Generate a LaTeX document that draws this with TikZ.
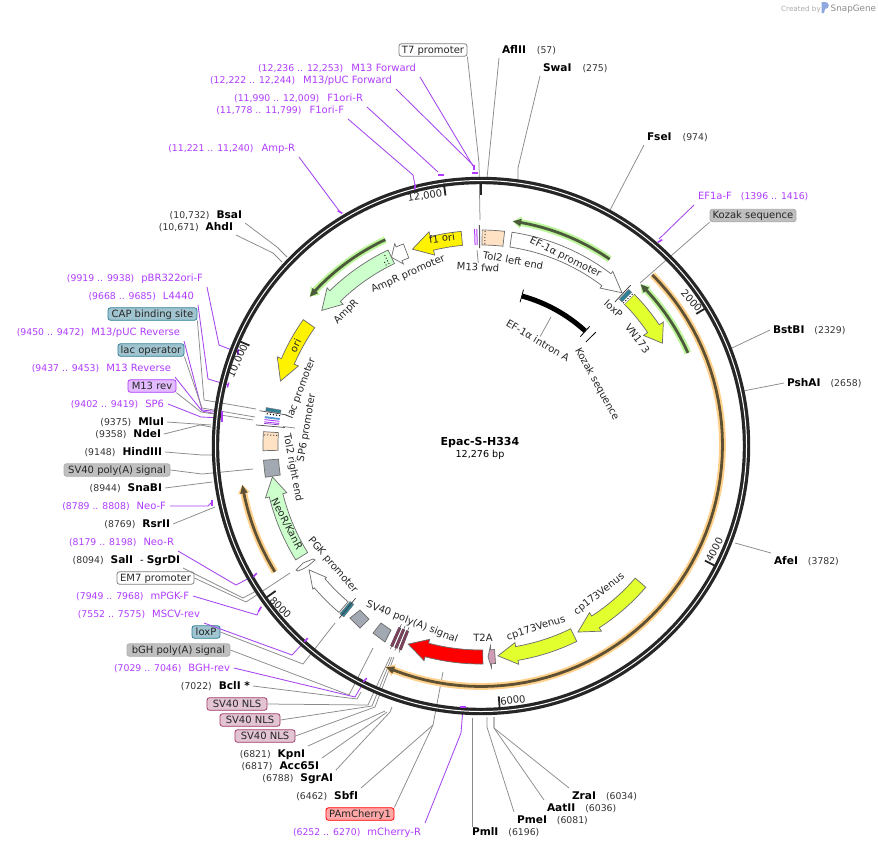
\documentclass[tikz,border=0pt]{standalone}
\usepackage{fontspec}
\setmainfont{DejaVu Sans}
\definecolor{primer}{HTML}{B03CFF}
\definecolor{primerline}{HTML}{A545F0}
\definecolor{leadgray}{HTML}{8A8A8A}
\definecolor{ringdark}{HTML}{262626}
\definecolor{numgray}{HTML}{333333}
\definecolor{peach}{HTML}{FFE2C4}
\definecolor{greybox}{HTML}{A3A9B2}
\definecolor{paleg}{HTML}{CCFFCC}
\definecolor{venus}{HTML}{E2FF2E}
\definecolor{tealf}{HTML}{2F7F96}
\definecolor{nlsf}{HTML}{A03A6A}
\definecolor{greenhalo}{HTML}{BDF59A}
\definecolor{greencore}{HTML}{4C5A3C}
\definecolor{orghalo}{HTML}{FFD08A}
\definecolor{orgcore}{HTML}{5E5032}
\newcommand{\Num}[1]{{\fontsize{9.3}{11}\selectfont\color{numgray}#1}}
\newcommand{\Enz}[1]{{\fontsize{10.6}{12}\selectfont\bfseries #1}}
\newcommand{\lblfont}{\fontsize{10}{12}\selectfont}
\tikzset{
  baselbl/.style={font=\lblfont,inner sep=0pt,text height=8pt,text depth=2pt},
  enzr/.style={baselbl,anchor=east,outer sep=3pt,xshift=3pt},
  enzl/.style={baselbl,anchor=west,outer sep=3pt,xshift=-3pt},
  primr/.style={baselbl,anchor=east,outer sep=4pt,xshift=4pt,text=primer},
  priml/.style={baselbl,anchor=west,outer sep=4pt,xshift=-4pt,text=primer},
  featbox/.style={baselbl,draw,rounded corners=2.5pt,line width=.8pt,align=center,text=black!85},
  whitebox/.style={featbox,draw=black!50,fill=white},
  tealbox/.style={featbox,draw=tealf,fill=tealf!45},
  greylab/.style={featbox,draw=black!32,fill=black!25},
  nlsbox/.style={featbox,draw=nlsf,fill=nlsf!30},
  m13box/.style={featbox,draw=primer,fill=primer!35},
  redbox/.style={featbox,draw=red,fill=red!35},
  lead/.style={draw=leadgray,line width=.75pt},
  plead/.style={draw=primerline,line width=.85pt},
  ptick/.style={draw=primer,line width=1.6pt},
  featedge/.style={draw=black!58,line width=.7pt},
  maplbl/.style={baselbl,text=black!85,anchor=center},
  halo/.style={draw=none,fill=#1},
}
\newcommand{\FeatArrow}[7]{%
  \pgfmathsetmacro\rO{#4+#5}\pgfmathsetmacro\rI{#4-#5}\pgfmathsetmacro\hO{#4+#6}\pgfmathsetmacro\hI{#4-#6}%
  \draw[#7] plot[domain=#1:#2,samples=60,variable=\t]({\rO*sin(\t)},{-\rO*cos(\t)})
    -- ({\hO*sin(#2)},{-\hO*cos(#2)}) -- ({#4*sin(#3)},{-#4*cos(#3)}) -- ({\hI*sin(#2)},{-\hI*cos(#2)})
    -- plot[domain=#2:#1,samples=60,variable=\t]({\rI*sin(\t)},{-\rI*cos(\t)}) -- cycle;}
\newcommand{\ThinArrow}[6]{% tail, headbase, tip, r, halo, core
  \FeatArrow{#1}{#2}{#3}{#4}{3.4}{6.2}{halo=#5}%
  \FeatArrow{#1}{#2}{#3}{#4}{1.4}{3.8}{halo=#6}}
\newcommand{\FeatBox}[5]{%
  \draw[#5] plot[domain=#1:#2,samples=5,variable=\t]({#4*sin(\t)},{-#4*cos(\t)})
    -- plot[domain=#2:#1,samples=5,variable=\t]({#3*sin(\t)},{-#3*cos(\t)}) -- cycle;}
\newcommand{\RadLine}[4]{\draw[#4] ({#2*sin(#1)},{-#2*cos(#1)}) -- ({#3*sin(#1)},{-#3*cos(#1)});}
\newcommand{\LeadB}[5][lead]{\coordinate (#2-b) at (#4); \coordinate (#2-e) at (#5); \draw[#1] (#2.#3) -- (#2-b) -- (#2-e);}
\newcommand{\LeadS}[4][lead]{\coordinate (#2-e) at (#4); \draw[#1] (#2.#3) -- (#2-e);}
\newcommand{\PTick}[3]{\draw[ptick,shift={(#1,#2)},rotate=#3] (-2.6,0) -- (2.6,0);}
\begin{document}
\begin{tikzpicture}[x=1pt,y=-1pt]
\useasboundingbox (0,0) rectangle (878,849);
\fill[white] (0,0) rectangle (878,849);

% --- credit
\node[baselbl,anchor=west,text=black!32,font=\fontsize{7.2}{9}\selectfont] (credit) at (781,8) {Created by};
\node[baselbl,anchor=west,text=black!45,font=\fontsize{8.8}{11}\selectfont] (snapgene) at (830.5,8) {SnapGene};
\fill[cyan!45!blue!45] (821.5,2) -- (825,2) .. controls (830,2) and (830,9) .. (825,9) -- (824,13) -- (821.5,13) -- cycle;

% --- outer labels, left side
\node[primr] (AmpRp) at (295,148) {\Num{\color{primer}(11,221 .. 11,240)}\hspace{8pt}Amp-R};
\node[primr] (M13F) at (416,68) {\Num{\color{primer}(12,236 .. 12,253)}\hspace{8pt}M13 Forward};
\node[primr] (M13pF) at (392,80) {\Num{\color{primer}(12,222 .. 12,244)}\hspace{8pt}M13/pUC Forward};
\node[primr] (F1R) at (363,98) {\Num{\color{primer}(11,990 .. 12,009)}\hspace{8pt}F1ori-R};
\node[primr] (F1F) at (344,110) {\Num{\color{primer}(11,778 .. 11,799)}\hspace{8pt}F1ori-F};
\node[enzr] (BsaI) at (242,215) {\Num{(10,732)}\hspace{7pt}\Enz{BsaI}};
\node[enzr] (AhdI) at (233,227) {\Num{(10,671)}\hspace{7pt}\Enz{AhdI}};
\node[primr] (pBR) at (203,278) {\Num{\color{primer}(9919 .. 9938)}\hspace{7pt}pBR322ori-F};
\node[primr] (L4440) at (194,296) {\Num{\color{primer}(9668 .. 9685)}\hspace{7pt}L4440};
\node[tealbox,minimum width=89pt,minimum height=12.5pt] (CAP) at (152.5,314) {CAP binding site};
\node[primr] (M13pR) at (180,332) {\Num{\color{primer}(9450 .. 9472)}\hspace{7pt}M13/pUC Reverse};
\node[tealbox,minimum width=66pt,minimum height=12.5pt] (lacop) at (151,350) {lac operator};
\node[primr] (M13R) at (171,368) {\Num{\color{primer}(9437 .. 9453)}\hspace{7pt}M13 Reverse};
\node[m13box,minimum width=48pt,minimum height=12.5pt] (M13rev) at (152,386) {M13 rev};
\node[primr] (SP6) at (164,404) {\Num{\color{primer}(9402 .. 9419)}\hspace{7pt}SP6};
\node[enzr] (MluI) at (164,422) {\Num{(9375)}\hspace{7pt}\Enz{MluI}};
\node[enzr] (NdeI) at (161,434) {\Num{(9358)}\hspace{7pt}\Enz{NdeI}};
\node[enzr] (HindIII) at (162,452) {\Num{(9148)}\hspace{7pt}\Enz{HindIII}};
\node[greylab,minimum width=106pt,minimum height=12.5pt] (SVpA) at (117,470) {SV40 poly(A) signal};
\node[enzr] (SnaBI) at (162,488) {\Num{(8944)}\hspace{7pt}\Enz{SnaBI}};
\node[primr] (NeoF) at (166,506) {\Num{\color{primer}(8789 .. 8808)}\hspace{7pt}Neo-F};
\node[enzr] (RsrII) at (170,524) {\Num{(8769)}\hspace{7pt}\Enz{RsrII}};
\node[primr] (NeoR) at (174,542) {\Num{\color{primer}(8179 .. 8198)}\hspace{7pt}Neo-R};
\node[enzr] (SalI) at (180,560) {\Num{(8094)}\hspace{7pt}\Enz{SalI}\hspace{7pt}- \Enz{SgrDI}};
\node[whitebox,minimum width=77pt,minimum height=12.5pt] (EM7) at (155.5,578) {EM7 promoter};
\node[primr] (mPGK) at (189,596) {\Num{\color{primer}(7949 .. 7968)}\hspace{7pt}mPGK-F};
\node[primr] (MSCV) at (200,614) {\Num{\color{primer}(7552 .. 7575)}\hspace{7pt}MSCV-rev};
\node[tealbox,minimum width=28pt,minimum height=12.5pt] (loxPl) at (206,632) {loxP};
\node[greylab,minimum width=103pt,minimum height=12.5pt] (bGH) at (178.5,650) {bGH poly(A) signal};
\node[primr] (BGHr) at (230,668) {\Num{\color{primer}(7029 .. 7046)}\hspace{7pt}BGH-rev};
\node[enzr] (BclI) at (250,686) {\Num{(7022)}\hspace{7pt}\Enz{BclI *}};
\node[nlsbox,minimum width=60pt,minimum height=12.5pt] (NLSa) at (237,704) {SV40 NLS};
\node[nlsbox,minimum width=60pt,minimum height=12.5pt] (NLSb) at (250,720) {SV40 NLS};
\node[nlsbox,minimum width=60pt,minimum height=12.5pt] (NLSc) at (265,736) {SV40 NLS};
\node[enzr] (KpnI) at (305,754) {\Num{(6821)}\hspace{7pt}\Enz{KpnI}};
\node[enzr] (Acc) at (319,766) {\Num{(6817)}\hspace{7pt}\Enz{Acc65I}};
\node[enzr] (SgrAI) at (333,778) {\Num{(6788)}\hspace{7pt}\Enz{SgrAI}};
\node[enzr] (SbfI) at (358,796) {\Num{(6462)}\hspace{7pt}\Enz{SbfI}};
\node[redbox,minimum width=68pt,minimum height=12.5pt] (PAm) at (360,814) {PAmCherry1};
\node[primr] (mChR) at (421,832) {\Num{\color{primer}(6252 .. 6270)}\hspace{7pt}mCherry-R};

% --- outer labels, right side
\node[enzl,outer sep=0pt,xshift=3pt] (PmlI) at (472,832) {\Enz{PmlI}\hspace{10pt}\Num{(6196)}};
\node[enzl] (PmeI) at (517,820) {\Enz{PmeI}\hspace{10pt}\Num{(6081)}};
\node[enzl] (AatII) at (547,808) {\Enz{AatII}\hspace{10pt}\Num{(6036)}};
\node[enzl] (ZraI) at (572,796) {\Enz{ZraI}\hspace{10pt}\Num{(6034)}};
\node[enzl] (AfeI) at (774,561) {\Enz{AfeI}\hspace{10pt}\Num{(3782)}};
\node[enzl] (PshAI) at (787,383) {\Enz{PshAI}\hspace{10pt}\Num{(2658)}};
\node[enzl] (BstBI) at (773,330) {\Enz{BstBI}\hspace{10pt}\Num{(2329)}};
\node[greylab,minimum width=86pt,minimum height=12.5pt] (Kozak) at (753,215.5) {Kozak sequence};
\node[priml] (EF1aF) at (698,196) {EF1a-F\hspace{9pt}\Num{\color{primer}(1396 .. 1416)}};
\node[enzl] (FseI) at (647,137) {\Enz{FseI}\hspace{11pt}\Num{(974)}};
\node[enzl] (SwaI) at (543,68) {\Enz{SwaI}\hspace{11pt}\Num{(275)}};
\node[enzl] (AflII) at (502,50) {\Enz{AflII}\hspace{11pt}\Num{(57)}};
\node[whitebox,minimum width=68pt,minimum height=12.5pt] (T7) at (433,50) {T7 promoter};

% --- leaders
\LeadB{T7}{south east}{479,163}{480,220}
\LeadS{AflII}{south west}{487,178}
\LeadB{SwaI}{south west}{518,168}{518,180}
\LeadS{FseI}{south west}{609,212}
\LeadS[plead]{EF1aF}{south west}{659,239}
\LeadS{Kozak}{south west}{640,283}
\LeadS[plead]{M13F}{south east}{473,166}
\LeadS[plead]{M13pF}{south east}{473,165}
\LeadS[plead]{F1R}{south east}{438,172}
\LeadB[plead]{F1F}{south east}{413,175}{415,185}
\LeadS[plead]{AmpRp}{south east}{340,212}
\LeadB{BsaI}{south east}{277,247}{287,257}
\LeadB{AhdI}{south east}{273,253}{282,262}
\LeadB[plead]{pBR}{south east}{219,345}{237,352}
\LeadB[plead]{L4440}{south east}{208,379}{228,385}
\LeadB{CAP}{south east}{204,400}{256,409}
\LeadB[plead]{M13pR}{south east}{202,410}{222,412}
\LeadB{lacop}{south east}{202,408}{255,417}
\LeadB[plead]{M13R}{south east}{202,411}{222,415}
\LeadB{M13rev}{south east}{201,412}{253,420}
\LeadB[plead]{SP6}{east}{201,417}{222,418}
\LeadS{MluI}{east}{211,425}
\LeadB{NdeI}{east}{200,425}{211,427}
\LeadB{HindIII}{east}{202,455}{212,455}
\LeadB{SVpA}{east}{202,474}{253,469}
\LeadS{SnaBI}{east}{212,482}
\LeadB[plead]{NeoF}{east}{208,506}{212,502}
\LeadS{RsrII}{east}{215,507}
\LeadB[plead]{NeoR}{south east}{236,585}{255,575}
\LeadB{SalI}{south east}{243,598}{258,590}
\LeadB{EM7}{east}{246,602}{290,573}
\LeadB[plead]{mPGK}{east}{257,615}{260,608}
\LeadB[plead]{MSCV}{south east}{292,655}{306,640}
\LeadB{loxPl}{east}{303,664}{335,623}
\LeadB{bGH}{east}{349,695}{373,648}
\LeadB[plead]{BGHr}{east}{355,697}{365,680}
\LeadB{BclI}{east}{357,699}{361,692}
\LeadB{NLSa}{east}{368,705}{390,657}
\LeadB{NLSb}{east}{372,706}{392,657}
\LeadB{NLSc}{east}{375,707}{394,657}
\LeadS{KpnI}{north east}{385,711}
\LeadS{Acc}{north east}{387,712}
\LeadB{SgrAI}{north east}{390,712}{392,707}
\LeadS{SbfI}{north east}{433,725}
\LeadB{PAm}{north east}{433,725}{443,672}
\LeadB[plead]{mChR}{north east}{461,733}{463,708}
\LeadS{PmlI}{north west}{472,718}
\LeadB{PmeI}{north west}{487,727}{487,717}
\LeadB{AatII}{north west}{494,728}{494,717}
\LeadB{ZraI}{north west}{494,728}{494,717}
\LeadS{AfeI}{north west}{735,543}
\LeadS{PshAI}{west}{738,392}
\LeadS{BstBI}{west}{732,348}

% --- backbone
\draw[ringdark,line width=7.4pt] (481,446) circle[radius=265.5pt];
\draw[white,line width=1pt] (481,446) circle[radius=265.5pt];

% --- primer ticks on the ring
\PTick{474}{167.5}{90}
\PTick{475}{172.7}{0}
\PTick{441}{175}{0}
\PTick{415}{187}{80}
\PTick{340}{212}{-30}
\PTick{660}{241}{30}
\PTick{238}{352}{90}
\PTick{228}{385}{75}
\PTick{222}{414}{90}
\PTick{222}{419}{90}
\PTick{212}{503}{90}
\PTick{255}{575}{45}
\PTick{260}{609}{60}
\PTick{306}{640}{45}
\PTick{365}{680}{45}
\PTick{463}{707}{0}

\begin{scope}[shift={(481,445)}]
% --- scale ticks
\RadLine{0}{250}{263}{ringdark,line width=2pt}
\RadLine{58.65}{252}{264}{ringdark,line width=1.8pt}
\RadLine{117.3}{252}{264}{ringdark,line width=1.8pt}
\RadLine{175.95}{252}{265}{ringdark,line width=1.8pt}
\RadLine{234.6}{252}{265}{ringdark,line width=1.8pt}
\RadLine{293.25}{252}{264}{ringdark,line width=1.8pt}
\RadLine{351.9}{252}{264}{ringdark,line width=1.8pt}

% --- primer-binding arcs
\ThinArrow{34.7}{10.2}{8.1}{226}{greenhalo}{greencore}
\ThinArrow{66}{46.9}{44.8}{226.5}{greenhalo}{greencore}
\ThinArrow{-25}{-47}{-49.1}{226.5}{greenhalo}{greencore}
\ThinArrow{45.2}{201.2}{203.2}{241.5}{orghalo}{orgcore}
\ThinArrow{238.4}{258.5}{260.5}{242}{orghalo}{orgcore}

% --- arrows on the feature track
\FeatArrow{8.3}{37.2}{42.8}{207.5}{7.5}{10.5}{featedge,fill=white}
\FeatArrow{-5.3}{-13.7}{-19.3}{207.5}{7}{12}{featedge,fill=yellow}
\FeatArrow{-21.1}{-23.2}{-25.5}{208}{7.5}{11}{featedge,fill=white}
\FeatArrow{-25.5}{-44.4}{-49.8}{208.5}{7.5}{11.5}{featedge,fill=paleg}
\FeatArrow{-54.8}{-66.6}{-72.3}{210.5}{7}{11.5}{featedge,fill=yellow}
\FeatArrow{238.2}{256.2}{261.3}{211}{7}{11}{featedge,fill=paleg}
\FeatArrow{220.3}{229.4}{234}{212.5}{7}{9}{featedge,fill=white}
\FeatArrow{179.5}{194.8}{200.1}{212}{7}{11}{featedge,fill=red}
\FeatArrow{176.2}{177.3}{178.1}{212}{7}{11}{featedge,fill=nlsf!50}
\FeatArrow{154}{170.25}{175.4}{211.5}{7}{11}{featedge,fill=venus}
\FeatArrow{130.8}{147.1}{152.6}{210.7}{7}{11}{featedge,fill=venus}
\FeatArrow{45.5}{56}{60.7}{208}{7}{12}{featedge,fill=venus}

% --- short features on the track
\FeatBox{0.3}{6.3}{200}{215}{featedge,fill=peach}
\RadLine{1.1}{201}{215}{dotted,black!75,line width=1pt}
\RadLine{-0.4}{197}{220}{black!65,line width=1pt}
\RadLine{-1.1}{200}{216}{primer,line width=1pt}
\RadLine{-1.7}{200}{216}{primer,line width=1pt}
\RadLine{-26.9}{203}{214}{dotted,black!85,line width=1pt}
\RadLine{-27.8}{203}{209}{dotted,black!85,line width=1pt}
\FeatBox{-86.5}{-91.5}{203}{218}{featedge,fill=peach}
\RadLine{-87.3}{204}{217}{dotted,black!75,line width=1pt}
\FeatBox{-94}{-98.5}{203}{218}{featedge,fill=greybox}
% lac cluster
\FeatBox{-80.1}{-81}{203}{218}{draw=black!55,line width=.4pt,fill=tealf}
\FeatBox{-81.3}{-82.2}{203}{218}{draw=none,fill=white}
\RadLine{-81.7}{203}{218}{dotted,black,line width=1.1pt}
\RadLine{-81.2}{197}{224}{black!70,line width=.7pt}
\FeatBox{-82.4}{-82.9}{203}{218}{draw=none,fill=cyan!60!blue!70}
\RadLine{-83.3}{203}{218}{primer,line width=.9pt}
\RadLine{-83.9}{203}{218}{primer,line width=.9pt}
\RadLine{-84.3}{203}{218}{primer!70!black,line width=.6pt}
\RadLine{-84.9}{197}{226}{black!70,line width=.7pt}
% loxP at VN173
\FeatBox{43.5}{44.7}{201}{214.5}{draw=black!55,line width=.4pt,fill=tealf}
\RadLine{43.1}{196}{219}{black!80,line width=.7pt}
\FeatBox{44.7}{45.5}{201}{214.5}{draw=none,fill=white}
\RadLine{45.1}{201}{214.5}{dotted,black,line width=1pt}
% loxP at PGK promoter
\FeatBox{218.6}{219.9}{204}{220}{draw=black!55,line width=.4pt,fill=tealf}
\RadLine{219.3}{198}{224}{black!75,line width=.7pt}
% NLS stripes
\foreach \n in {201.2,202.4,203.6}{
  \FeatBox{\n}{\n+.7}{200}{220}{draw=black!75,line width=.35pt,fill=nlsf}
  \RadLine{\n+.35}{196}{223}{black!70,line width=.5pt}
}
% intron A arc
\draw[black,line width=5pt] plot[domain=15.4:42.4,samples=30,variable=\t]({154.5*sin(\t)},{-154.5*cos(\t)});
\RadLine{15.3}{148}{161}{black,line width=.8pt}
\RadLine{42.5}{147}{161}{black,line width=.8pt}
\RadLine{45.5}{147}{161}{black,line width=.8pt}
\end{scope}

% --- EM7 promoter sliver and boxes
\draw[featedge,fill=white] (296,570) -- (303,563) -- (313,559) -- (315,560) -- (308,566) -- (303,569) -- (298,571) -- cycle;
\draw[featedge,fill=greybox] (350,618) -- (360,610) -- (369,619) -- (360,628) -- cycle;
\draw[featedge,fill=greybox] (373,633) -- (381,623) -- (391,630) -- (385,642) -- cycle;

% --- scale labels
\node[maplbl,rotate=9] (l12k) at (425,196) {12,000};
\node[maplbl,rotate=66] (l10k) at (238,361) {10,000};
\node[maplbl,rotate=-44] (l8k) at (280,608) {8000};
\node[maplbl,rotate=8] (l6k) at (513,701) {6000};
\node[maplbl,rotate=62] (l4k) at (715,550) {4000};
\node[maplbl,rotate=-48] (l2k) at (691,301) {2000};

% --- labels on the map
\node[maplbl,rotate=-3] (M13fwd) at (478,268) {M13 fwd};
\node[maplbl,rotate=-10.5] (Tol2l) at (513,261) {Tol2 left end};
\node[maplbl,rotate=8] (f1ori) at (442,239) {f1 ori};
\node[maplbl,rotate=45] (AmpRl) at (346,312) {AmpR};
\node[maplbl,rotate=65] (oril) at (296,346) {ori};
\node[maplbl,rotate=69] (lacp) at (301,388.5) {lac promoter};
\node[maplbl,rotate=80.3] (SP6p) at (306.5,428) {SP6 promoter};
\node[maplbl,rotate=-79.5] (Tol2r) at (293,468) {Tol2 right end};
\node[maplbl,rotate=-62.6] (NeoKan) at (286.5,524) {NeoR/KanR};
\node[maplbl] (T2A) at (483,638) {T2A};
\node[maplbl,rotate=18] (cpa) at (536,628) {cp173Venus};
\node[maplbl,rotate=38] (cpb) at (599,594) {cp173Venus};
\node[maplbl,rotate=-53] (VN) at (637,339) {VN173};
\node[maplbl,rotate=-42] (loxPt) at (613,309) {loxP};
\node[maplbl,rotate=-26.3] (EFprom) at (565.5,257.5) {EF-1α promoter};
\node[maplbl,rotate=23.8] (AmpRprom) at (408,274) {AmpR promoter};
\node[maplbl,rotate=-49.3] (PGKprom) at (333,565) {PGK promoter};
\node[maplbl,rotate=-21.8] (SVsig) at (412,622) {SV40 poly(A) signal};
\node[maplbl,rotate=-61] (Kozakin) at (597,384) {Kozak sequence};
\node[maplbl,rotate=-30.3] (EFintron) at (537.5,341) {EF-1α intron A};
\coordinate (m13e) at (477,250);
\draw[lead] (M13fwd.north) -- (m13e);
\coordinate (sp6a) at (283,426.5);
\coordinate (sp6b) at (295,428);
\draw[lead] (sp6a) -- (sp6b);
\coordinate (inb) at (551,317);
\draw[lead] (EFintron.north) -- (inb);

% --- centre
\node[baselbl,font=\bfseries\fontsize{11}{13}\selectfont] (title) at (480,442) {Epac-S-H334};
\node[baselbl,font=\fontsize{9.6}{12}\selectfont] (size) at (480,454.5) {12,276 bp};
\end{tikzpicture}
\end{document}
